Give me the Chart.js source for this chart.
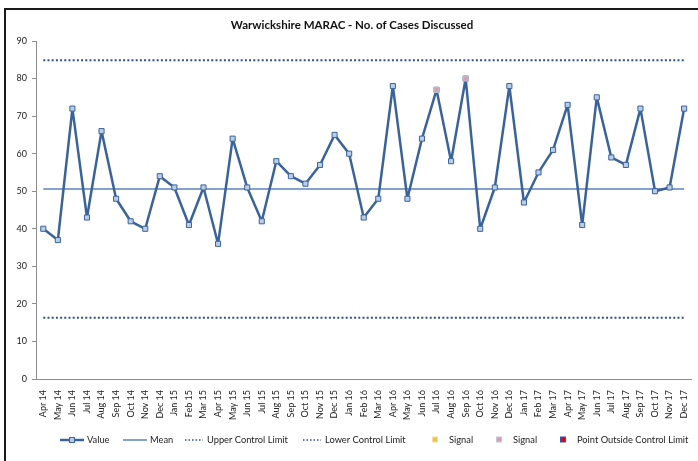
<!DOCTYPE html>
<html>
<head>
<title>Warwickshire MARAC</title>
<script src="https://cdn.jsdelivr.net/npm/chart.js@4.4.1/dist/chart.umd.min.js"></script>
<style>
    body { margin: 0; background: #fff; overflow: hidden; }
    #frame { position: absolute; left: 4px; top: 8px; width: 720px; height: 480px;
             border-left: 2px solid #1a1a1a; border-top: 2px solid #1a1a1a; }
    #wrap { position: absolute; left: 7px; top: 10px; width: 691px; height: 451px; background: #fff; }
</style>
<script>
    var months = ['Apr 14','May 14','Jun 14','Jul 14','Aug 14','Sep 14','Oct 14','Nov 14','Dec 14',
        'Jan 15','Feb 15','Mar 15','Apr 15','May 15','Jun 15','Jul 15','Aug 15','Sep 15','Oct 15','Nov 15','Dec 15',
        'Jan 16','Feb 16','Mar 16','Apr 16','May 16','Jun 16','Jul 16','Aug 16','Sep 16','Oct 16','Nov 16','Dec 16',
        'Jan 17','Feb 17','Mar 17','Apr 17','May 17','Jun 17','Jul 17','Aug 17','Sep 17','Oct 17','Nov 17','Dec 17'];
    var values = [40, 37, 72, 43, 66, 48, 42, 40, 54,
        51, 41, 51, 36, 64, 51, 42, 58, 54, 52, 57, 65,
        60, 43, 48, 78, 48, 64, 77, 58, 80, 40, 51, 78,
        47, 55, 61, 73, 41, 75, 59, 57, 72, 50, 51, 72];
    var meanValue = 50.6;
    var upperLimit = 84.9;
    var lowerLimit = 16.3;
    // points flagged by the run rules (second signal series)
    var signalPoints = { 'Jul 16': 77, 'Sep 16': 80 };
    var yTicks = [0, 10, 20, 30, 40, 50, 60, 70, 80, 90];
</script>
</head>
<body>
<div id="frame"></div>
<div id="wrap"><canvas id="chart"></canvas></div>
<script>
    var font = 'Lato, "Open Sans", sans-serif';
    var blue = '#3a639b';

    var flat = (v) => months.map(() => v);
    var signalB = months.map((m) => signalPoints[m] !== undefined ? signalPoints[m] : null);
    var empty = months.map(() => null);

    // legend drawn by hand so the line + marker swatches look like the original
    var legendItems = [
        { kind: 'marker', x: 60, text: 'Value' },
        { kind: 'line', x: 123, text: 'Mean' },
        { kind: 'dots', x: 185, text: 'Upper Control Limit' },
        { kind: 'dots', x: 303, text: 'Lower Control Limit' },
        { kind: 'square', x: 435, text: 'Signal', fill: '#f2c14a', stroke: '#f5dea0' },
        { kind: 'square', x: 499, text: 'Signal', fill: '#d9a0a8', stroke: '#c8c4dc' },
        { kind: 'square', x: 563, text: 'Point Outside Control Limit', fill: '#e3001b', stroke: '#3355aa' }
    ];

    var legendPlugin = {
        id: 'manualLegend',
        afterDraw(chart) {
            var ctx = chart.ctx;
            var y = 440 - 10;
            ctx.save();
            ctx.font = '9.3px ' + font;
            ctx.fillStyle = '#222';
            ctx.textBaseline = 'middle';
            legendItems.forEach((it) => {
                var x = it.x - 7;
                if (it.kind === 'marker' || it.kind === 'line') {
                    ctx.strokeStyle = it.kind === 'marker' ? blue : '#5b84bb';
                    ctx.lineWidth = it.kind === 'marker' ? 2.5 : 1.5;
                    ctx.beginPath(); ctx.moveTo(x, y); ctx.lineTo(x + 24, y); ctx.stroke();
                    if (it.kind === 'marker') {
                        ctx.fillStyle = '#b9cde8'; ctx.strokeStyle = blue; ctx.lineWidth = 1;
                        ctx.fillRect(x + 9.5, y - 2.5, 5, 5); ctx.strokeRect(x + 9.5, y - 2.5, 5, 5);
                    }
                    ctx.fillStyle = '#222';
                    ctx.fillText(it.text, x + 27, y);
                } else if (it.kind === 'dots') {
                    ctx.strokeStyle = '#2d4f8e'; ctx.lineWidth = 1.5;
                    ctx.setLineDash([1.5, 2]);
                    ctx.beginPath(); ctx.moveTo(x, y); ctx.lineTo(x + 18, y); ctx.stroke();
                    ctx.setLineDash([]);
                    ctx.fillText(it.text, x + 22, y);
                } else {
                    ctx.fillStyle = it.fill; ctx.strokeStyle = it.stroke; ctx.lineWidth = 1;
                    ctx.fillRect(x - 2.5, y - 3, 5, 5); ctx.strokeRect(x - 2.5, y - 3, 5, 5);
                    ctx.fillStyle = '#222';
                    ctx.fillText(it.text, x + 14, y);
                }
            });
            ctx.restore();
        }
    };

    var data = {
        labels: months,
        datasets: [
            { label: 'Value', data: values, borderColor: blue, borderWidth: 2.5, borderJoinStyle: 'round',
              pointStyle: 'rect', pointRadius: 3.6, pointBorderWidth: 1,
              pointBackgroundColor: '#b9cde8', pointBorderColor: blue, order: 3 },
            { label: 'Mean', data: flat(meanValue), borderColor: '#5b84bb', borderWidth: 1.6,
              pointRadius: 0, order: 4 },
            { label: 'Upper Control Limit', data: flat(upperLimit), borderColor: '#2d4f8e', borderWidth: 2,
              borderDash: [2, 2.2], pointRadius: 0, order: 5 },
            { label: 'Lower Control Limit', data: flat(lowerLimit), borderColor: '#2d4f8e', borderWidth: 2,
              borderDash: [2, 2.2], pointRadius: 0, order: 6 },
            { label: 'Signal', data: empty, showLine: false, pointStyle: 'rect', pointRadius: 3.6,
              pointBackgroundColor: '#f2c14a', pointBorderColor: '#f5dea0', order: 2 },
            { label: 'Signal', data: signalB, showLine: false, pointStyle: 'rect', pointRadius: 3.6,
              pointBorderWidth: 1, pointBackgroundColor: '#d9a0a8', pointBorderColor: '#b9c3df', order: 1 },
            { label: 'Point Outside Control Limit', data: empty, showLine: false, pointStyle: 'rect',
              pointRadius: 3.6, pointBackgroundColor: '#e3001b', pointBorderColor: '#3355aa', order: 0 }
        ]
    };

    new Chart(document.getElementById('chart'), {
        type: 'line',
        data: data,
        plugins: [legendPlugin],
        options: {
            responsive: true,
            maintainAspectRatio: false,
            animation: false,
            layout: { padding: { left: 0, right: 1, top: 0, bottom: 0 } },
            plugins: {
                legend: { display: false },
                tooltip: { enabled: false },
                title: {
                    display: true,
                    text: 'Warwickshire MARAC - No. of Cases Discussed',
                    color: '#111',
                    font: { family: font, size: 11.5, weight: 'bold' },
                    padding: { top: 8.5, bottom: 8.7 }
                }
            },
            scales: {
                x: {
                    offset: true,
                    grid: { display: false },
                    border: { display: true, color: '#8c8c8c', width: 1 },
                    ticks: { minRotation: 90, maxRotation: 90, autoSkip: false, padding: 3,
                              color: '#222', font: { family: font, size: 9 } },
                    afterFit(scale) { scale.height = 82; }
                },
                y: {
                    min: 0, max: 90,
                    afterBuildTicks(scale) { scale.ticks = yTicks.map((v) => ({ value: v })); },
                    grid: { display: true, drawOnChartArea: false, tickLength: 4, color: '#8c8c8c' },
                    border: { display: true, color: '#8c8c8c', width: 1 },
                    ticks: { padding: 5, color: '#222', font: { family: font, size: 9 } },
                    afterFit(scale) { scale.width = 29; }
                }
            }
        }
    });
</script>
</body>
</html>
